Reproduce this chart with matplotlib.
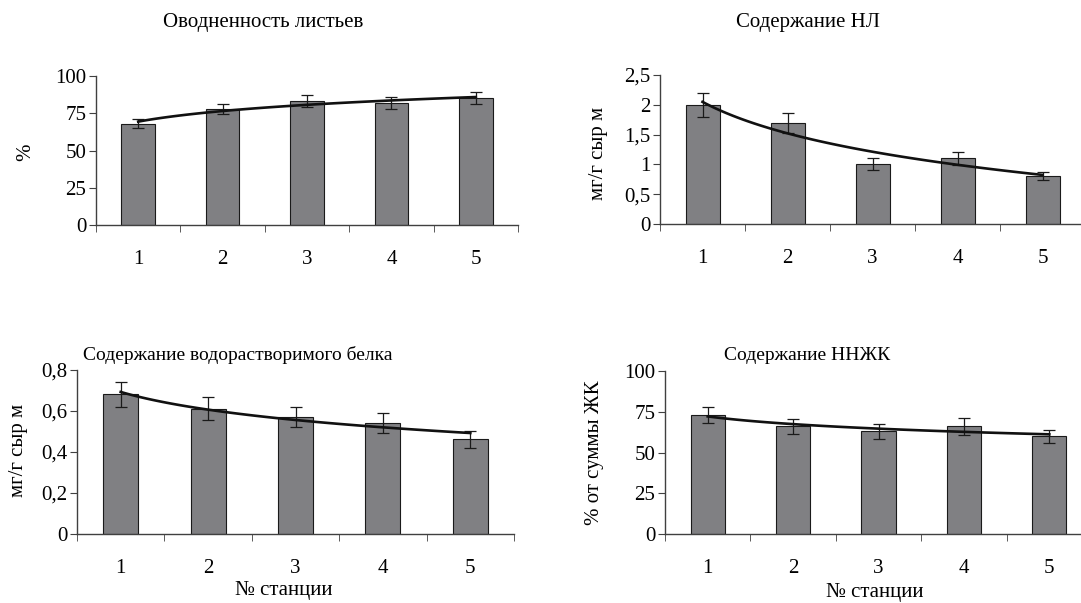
import numpy as np
import matplotlib
matplotlib.use('Agg')
import matplotlib.pyplot as plt
from matplotlib.ticker import FixedLocator, FuncFormatter

plt.rcParams['font.family'] = ['Liberation Serif', 'DejaVu Serif']
plt.rcParams['font.size'] = 15

# station numbers
stations = [1, 2, 3, 4, 5]

# leaf water content, %
water = [68, 78, 83, 82, 85]
water_err = [3, 3.5, 4, 4, 4]

# NL content, mg/g fresh mass
nl = [2.0, 1.7, 1.0, 1.1, 0.8]
nl_err = [0.2, 0.17, 0.1, 0.11, 0.07]

# water-soluble protein, mg/g fresh mass
protein = [0.68, 0.61, 0.57, 0.54, 0.46]
protein_err = [0.06, 0.055, 0.05, 0.05, 0.04]

# unsaturated fatty acids, % of total FA
nnzhk = [73, 66, 63, 66, 60]
nnzhk_err = [5, 4.5, 4.5, 5, 4]

W, H = 1081, 603
fig = plt.figure(figsize=(W / 100, H / 100), dpi=100)


def px_axes(left, right, top, bottom):
    return fig.add_axes([left / W, 1 - bottom / H, (right - left) / W, (bottom - top) / H])


def comma(v, pos):
    s = f'{v:g}'
    return s.replace('.', ',')


def draw(ax, vals, errs, ymax, ystep):
    x = np.array(stations)
    ax.bar(x, vals, width=0.4, color='#808083', edgecolor='#1a1a1a', linewidth=0.8, zorder=2)
    ax.errorbar(x, vals, yerr=errs, fmt='none', ecolor='#1a1a1a', elinewidth=0.9,
                capsize=4, capthick=0.9, zorder=3)
    # logarithmic trend line (least squares on ln x)
    a, b = np.polyfit(np.log(x), vals, 1)
    xs = np.linspace(1, 5, 100)
    ax.plot(xs, a * np.log(xs) + b, color='#111111', lw=1.9, zorder=4)

    ax.set_xlim(0.5, 5.5)
    ax.set_ylim(0, ymax)
    ax.set_xticks(x)
    ax.xaxis.set_minor_locator(FixedLocator(np.arange(0.5, 6, 1)))
    ax.tick_params(axis='x', which='major', length=0, pad=18)
    ax.tick_params(axis='x', which='minor', length=5, direction='out', color='#404040')
    ax.set_yticks(np.arange(0, ymax + ystep / 2, ystep))
    ax.yaxis.set_major_formatter(FuncFormatter(comma))
    ax.tick_params(axis='y', length=5, pad=2, color='#404040')
    for s in ['top', 'right']:
        ax.spines[s].set_visible(False)
    for s in ['left', 'bottom']:
        ax.spines[s].set_color('#404040')
        ax.spines[s].set_linewidth(1.0)


ax1 = px_axes(96, 518, 76, 225)
draw(ax1, water, water_err, 100, 25)
ax2 = px_axes(660, 1085, 75, 224)
draw(ax2, nl, nl_err, 2.5, 0.5)
ax3 = px_axes(77, 514, 369.5, 534)
draw(ax3, protein, protein_err, 0.8, 0.2)
ax4 = px_axes(665, 1092, 371, 534)
draw(ax4, nnzhk, nnzhk_err, 100, 25)

# titles
fig.text(263 / W, 1 - 22 / H, 'Оводненность листьев', ha='center', va='center')
fig.text(808 / W, 1 - 22 / H, 'Содержание НЛ', ha='center', va='center')
fig.text(238 / W, 1 - 355 / H, 'Содержание водорастворимого белка', ha='center', va='center',
         fontsize=14)
fig.text(807 / W, 1 - 356 / H, 'Содержание ННЖК', ha='center', va='center', fontsize=14)

# y labels
fig.text(26 / W, 1 - 152 / H, '%', rotation=90, ha='center', va='center')
fig.text(598 / W, 1 - 153 / H, 'мг/г сыр м', rotation=90, ha='center', va='center')
fig.text(19 / W, 1 - 450 / H, 'мг/г сыр м', rotation=90, ha='center', va='center')
fig.text(595 / W, 1 - 453 / H, '% от суммы ЖК', rotation=90, ha='center', va='center')

# x labels
fig.text(284 / W, 1 - 591 / H, '№ станции', ha='center', va='center')
fig.text(875 / W, 1 - 592 / H, '№ станции', ha='center', va='center')

fig.savefig('out.png', dpi=100)
